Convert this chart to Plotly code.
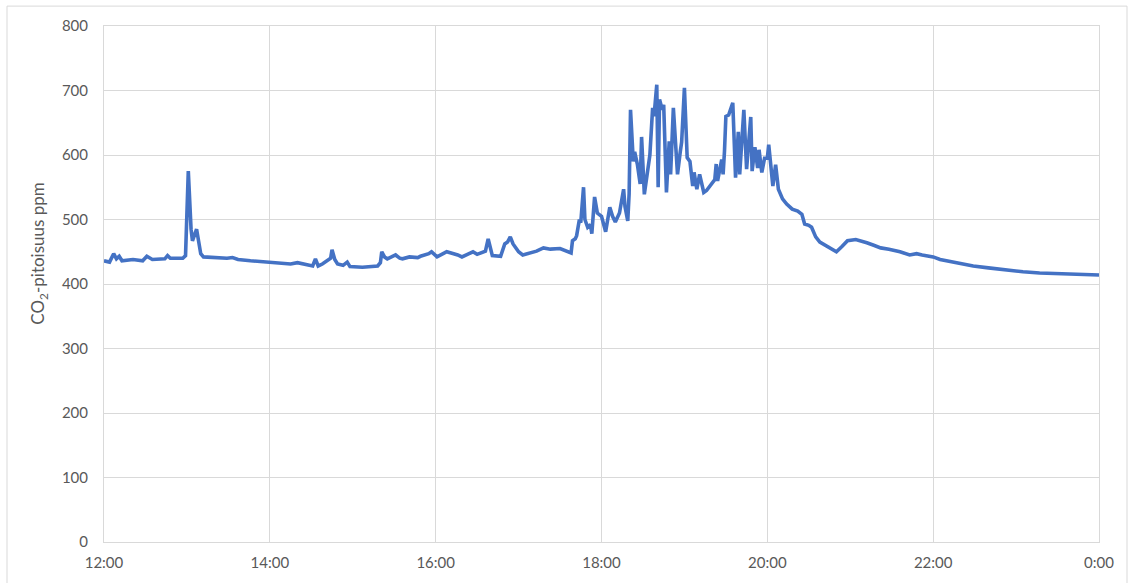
import datetime as dt
import plotly.graph_objects as go

# Measurement times (HH:MM, 12:00 -> midnight) and CO2 concentration (ppm)
times = [
    "12:00", "12:04", "12:07", "12:09", "12:11", "12:13", "12:21", "12:25", "12:28", "12:31",
    "12:35", "12:44", "12:46", "12:48", "12:57", "12:59", "13:01", "13:03", "13:04", "13:07",
    "13:10", "13:12", "13:29", "13:33", "13:37", "13:46", "14:00", "14:07", "14:15", "14:20",
    "14:26", "14:31", "14:33", "14:35", "14:38", "14:41", "14:44", "14:45", "14:47", "14:49",
    "14:53", "14:56", "14:58", "15:07", "15:18", "15:20", "15:21", "15:23", "15:25", "15:31",
    "15:34", "15:36", "15:41", "15:47", "15:49", "15:55", "15:57", "16:01", "16:08", "16:16",
    "16:19", "16:23", "16:27", "16:30", "16:36", "16:38", "16:41", "16:47", "16:50", "16:52",
    "16:54", "16:56", "17:00", "17:03", "17:08", "17:13", "17:18", "17:23", "17:30", "17:36",
    "17:38", "17:39", "17:41", "17:42", "17:44", "17:45", "17:47", "17:48", "17:50", "17:52",
    "17:53", "17:55", "17:57", "18:00", "18:03", "18:06", "18:08", "18:10", "18:13", "18:16",
    "18:17", "18:19", "18:20", "18:21", "18:23", "18:24", "18:26", "18:28", "18:29", "18:31",
    "18:33", "18:35", "18:37", "18:38", "18:40", "18:41", "18:42", "18:44", "18:45", "18:47",
    "18:49", "18:50", "18:52", "18:53", "18:55", "18:57", "18:58", "19:00", "19:02", "19:04",
    "19:06", "19:07", "19:09", "19:11", "19:14", "19:16", "19:20", "19:22", "19:23", "19:24",
    "19:27", "19:28", "19:29", "19:30", "19:32", "19:35", "19:37", "19:39", "19:40", "19:43",
    "19:45", "19:48", "19:49", "19:51", "19:53", "19:54", "19:56", "19:58", "20:00", "20:01",
    "20:04", "20:06", "20:08", "20:11", "20:14", "20:18", "20:22", "20:25", "20:27", "20:30",
    "20:32", "20:35", "20:38", "20:41", "20:44", "20:47", "20:50", "20:54", "20:58", "21:04",
    "21:08", "21:12", "21:17", "21:22", "21:28", "21:36", "21:43", "21:48", "21:52", "21:56",
    "22:00", "22:05", "22:12", "22:20", "22:29", "22:40", "22:54", "23:05", "23:17", "23:29",
    "23:41", "23:50", "00:00",
]
co2_ppm = [
    436, 434, 447, 439, 443, 436, 438, 437, 436, 443,
    438, 439, 444, 440, 440, 444, 575, 485, 467, 485,
    447, 442, 440, 441, 438, 436, 433, 432, 431, 433,
    430, 428, 439, 428, 431, 436, 440, 453, 438, 431,
    429, 434, 427, 426, 428, 433, 450, 442, 439, 445,
    440, 439, 442, 441, 443, 447, 450, 442, 450, 445,
    442, 446, 450, 446, 451, 470, 444, 443, 462, 465,
    473, 462, 450, 445, 448, 451, 456, 454, 455, 450,
    448, 467, 470, 475, 500, 495, 550, 500, 488, 492,
    478, 535, 510, 505, 481, 519, 505, 496, 510, 547,
    520, 498, 540, 670, 590, 605, 585, 555, 628, 539,
    570, 600, 673, 660, 709, 550, 686, 670, 678, 542,
    621, 570, 673, 640, 570, 605, 620, 704, 596, 590,
    552, 573, 547, 570, 542, 545, 555, 562, 586, 560,
    593, 570, 606, 660, 662, 681, 565, 636, 570, 670,
    578, 659, 575, 612, 580, 608, 573, 595, 595, 616,
    552, 585, 547, 532, 524, 516, 513, 508, 493, 491,
    488, 473, 465, 461, 458, 454, 450, 458, 467, 469,
    467, 464, 460, 456, 454, 450, 445, 447, 445, 443,
    442, 438, 435, 432, 428, 425, 421, 419, 417, 416,
    416, 415, 414,
]

y_ticks = [0, 100, 200, 300, 400, 500, 600, 700, 800]

base = dt.datetime(2024, 1, 1, 12, 0)


def to_datetime(hhmm):
    h, m = (int(p) for p in hhmm.split(":"))
    minutes = (h - 12) * 60 + m if h >= 12 else (h + 12) * 60 + m
    return base + dt.timedelta(minutes=minutes)


x_vals = [to_datetime(t) for t in times]

grid = "#D9D9D9"
text_col = "#595959"
font_family = "Lato, 'Open Sans', sans-serif"

fig = go.Figure()
fig.add_trace(go.Scatter(
    x=x_vals, y=co2_ppm, mode="lines",
    line=dict(color="#4472C4", width=3.6, shape="linear"),
    showlegend=False,
))

fig.update_layout(
    width=1133, height=583,
    margin=dict(l=104, r=34, t=26, b=38),
    paper_bgcolor="white", plot_bgcolor="white",
    font=dict(family=font_family, size=15, color=text_col),
    xaxis=dict(
        type="date",
        range=[base, base + dt.timedelta(hours=12)],
        dtick=2 * 3600 * 1000,
        tick0=base,
        tickformat="%-H:%M",
        showgrid=True, gridcolor=grid, gridwidth=1,
        showline=True, linecolor=grid, linewidth=1, mirror=True,
        ticks="", ticklabelstandoff=7,
        zeroline=False,
    ),
    yaxis=dict(
        range=[0, 800],
        tickvals=y_ticks,
        showgrid=True, gridcolor=grid, gridwidth=1,
        showline=True, linecolor=grid, linewidth=1, mirror=True,
        ticks="", ticklabelstandoff=12,
        zeroline=False,
    ),
    annotations=[dict(
        text="CO<sub>2</sub>-pitoisuus ppm",
        xref="paper", yref="paper",
        x=(39 - 104) / 995, y=(545 - 255) / 519,
        xanchor="center", yanchor="middle",
        textangle=-90, showarrow=False,
        font=dict(family=font_family, size=17, color=text_col),
    )],
    shapes=[dict(
        type="rect", xref="paper", yref="paper",
        x0=(7 - 104) / 995, x1=(1127 - 104) / 995,
        y0=(545 - 600) / 519, y1=(545 - 6) / 519,
        line=dict(color=grid, width=1), fillcolor="rgba(0,0,0,0)",
        layer="below",
    )],
)

fig.write_html("out.html")
